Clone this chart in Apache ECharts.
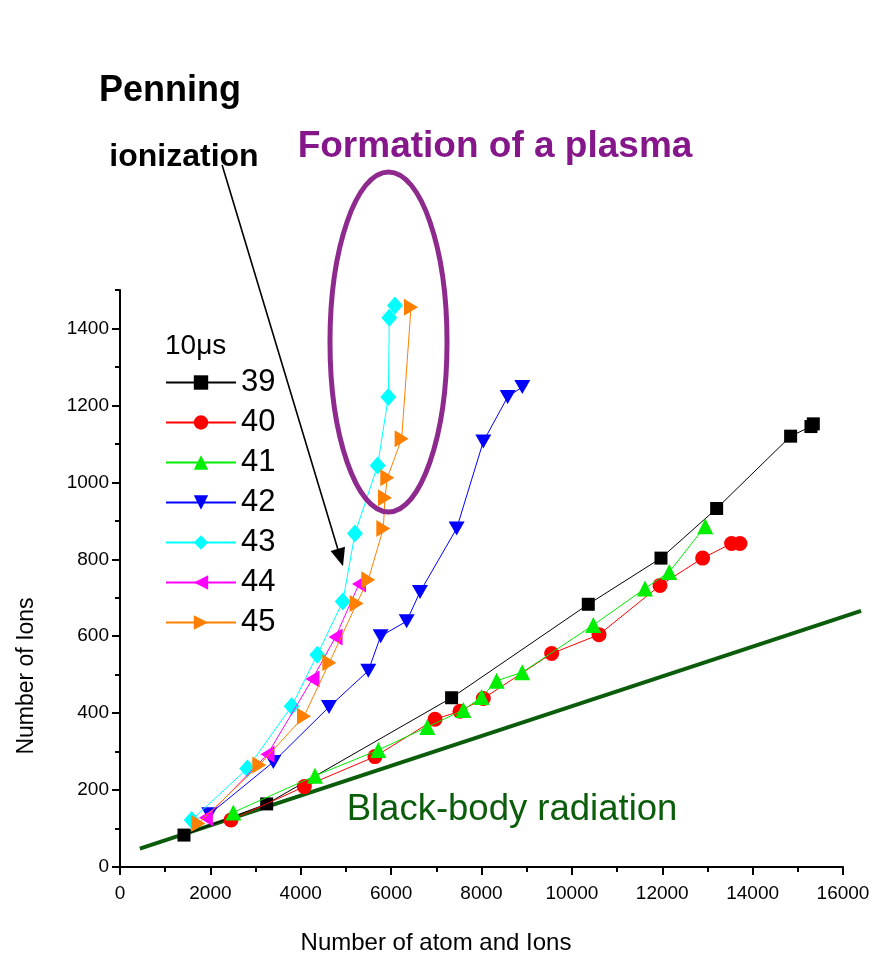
<!DOCTYPE html>
<html>
<head>
<meta charset="utf-8">
<script src="https://cdn.jsdelivr.net/npm/echarts@6/dist/echarts.min.js"></script>
<style>
  html, body { margin: 0; padding: 0; background: #fff; }
  #chart { width: 875px; height: 958px; }
</style>
</head>
<body>
<div id="chart"></div>
<script>
// Ion count vs. total number of atoms and ions, for delays 39..45 (x10 µs)
const seriesNames = ['39', '40', '41', '42', '43', '44', '45'];

const atoms39 = [1416, 3246, 7338, 10363, 11972, 13204, 14841, 15291, 15343];
const ions39  = [83, 164, 440, 683, 803, 932, 1120, 1145, 1152];

const atoms40 = [2456, 4079, 5643, 6971, 7524, 8040, 9553, 10600, 11950, 12894, 13534, 13720];
const ions40  = [122, 209, 287, 384, 405, 438, 555, 604, 732, 803, 841, 841];

const atoms41 = [2508, 4315, 5716, 6801, 7597, 8003, 8335, 8900, 10474, 11618, 12155, 12952];
const ions41  = [142, 237, 304, 364, 408, 442, 484, 506, 629, 724, 767, 886];

const atoms42 = [1976, 3393, 4625, 5495, 5768, 6344, 6639, 7450, 8040, 8579, 8903];
const ions42  = [137, 273, 416, 510, 600, 639, 715, 880, 1106, 1222, 1248];

const atoms43 = [1586, 2818, 3799, 4367, 4930, 5200, 5702, 5938, 5960, 6085];
const ions43  = [122, 256, 418, 552, 690, 867, 1044, 1222, 1428, 1460];

const atoms44 = [1900, 3264, 4260, 4770, 5290];
const ions44  = [128, 293, 489, 598, 736];

const atoms45 = [1733, 3083, 4072, 4632, 5237, 5495, 5827, 5864, 5916, 6233, 6440];
const ions45  = [113, 265, 392, 531, 685, 747, 880, 960, 1012, 1113, 1455];

// Black-body radiation reference line (end points)
const blackBodyAtoms = [440, 16400];
const blackBodyIons  = [48, 666];

// Axis ticks
const xTickLabels = [0, 2000, 4000, 6000, 8000, 10000, 12000, 14000, 16000];
const yTickLabels = [0, 200, 400, 600, 800, 1000, 1200, 1400];
const yMinorTicks = [100, 300, 500, 700, 900, 1100, 1300, 1500];

const X_MAX = 16000;
const Y_MAX = 1500;

const FONT = '"Liberation Sans", Arial, sans-serif';

function pairs(xs, ys) { return xs.map((x, i) => [x, ys[i]]); }

const downTri  = 'path://M0,0 L10,0 L5,9 Z';
const leftTri  = 'path://M9,0 L9,10 L0,5 Z';
const rightTri = 'path://M0,0 L9,5 L0,10 Z';

const styles = [
  { color: '#000000', symbol: 'rect',     size: 13 },
  { color: '#ff0000', symbol: 'circle',   size: 15 },
  { color: '#00ee00', symbol: 'triangle', size: 16 },
  { color: '#0000ff', symbol: downTri,    size: [16, 14] },
  { color: '#00ffff', symbol: 'diamond',  size: [16, 18] },
  { color: '#ff00ff', symbol: leftTri,    size: [14, 17] },
  { color: '#ff8000', symbol: rightTri,   size: [14, 17] }
];

const dataSets = [
  pairs(atoms39, ions39), pairs(atoms40, ions40), pairs(atoms41, ions41),
  pairs(atoms42, ions42), pairs(atoms43, ions43), pairs(atoms44, ions44),
  pairs(atoms45, ions45)
];

// Plot box: the main grid, plus an overlay grid with the same scale that
// reaches a little further right so the radiation line can overrun the axis.
const GRID_LEFT = 120, GRID_RIGHT = 32, GRID_TOP = 290, GRID_BOTTOM = 91;
const CHART_W = 875;
const OVERRUN_RIGHT = 12;
const pxPerUnit = (CHART_W - GRID_LEFT - GRID_RIGHT) / X_MAX;
const overlayMax = (CHART_W - GRID_LEFT - OVERRUN_RIGHT) / pxPerUnit;

const series = seriesNames.map((name, i) => ({
  name: name,
  type: 'line',
  data: dataSets[i],
  symbol: styles[i].symbol,
  symbolSize: styles[i].size,
  showAllSymbol: true,
  lineStyle: { color: styles[i].color, width: 1 },
  itemStyle: { color: styles[i].color },
  emphasis: { disabled: true },
  z: 3 + i
}));

series.unshift({
  name: 'Black-body',
  type: 'line',
  xAxisIndex: 1,
  yAxisIndex: 2,
  data: pairs(blackBodyAtoms, blackBodyIons),
  symbol: 'none',
  clip: false,
  lineStyle: { color: '#0b5c0b', width: 4 },
  emphasis: { disabled: true },
  z: 2
});

const plain = v => String(v);
const hiddenAxis = {
  axisLine: { show: false }, axisTick: { show: false },
  axisLabel: { show: false }, splitLine: { show: false }
};

const chart = echarts.init(document.getElementById('chart'), null, { renderer: 'canvas' });

chart.setOption({
  animation: false,
  backgroundColor: '#ffffff',
  grid: [
    { left: GRID_LEFT, right: GRID_RIGHT, top: GRID_TOP, bottom: GRID_BOTTOM, containLabel: false },
    { left: GRID_LEFT, right: OVERRUN_RIGHT, top: GRID_TOP, bottom: GRID_BOTTOM, containLabel: false }
  ],
  legend: {
    data: seriesNames,
    orient: 'vertical',
    left: 165,
    top: 367,
    padding: 0,
    itemWidth: 70,
    itemHeight: 18,
    itemGap: 9,
    selectedMode: false,
    textStyle: { fontFamily: FONT, fontSize: 31, color: '#000' }
  },
  xAxis: [
    {
      type: 'value',
      gridIndex: 0,
      min: 0,
      max: X_MAX,
      interval: 2000,
      axisLine: { onZero: false, lineStyle: { color: '#000', width: 2 } },
      axisTick: { length: 8, lineStyle: { color: '#000', width: 2 } },
      minorTick: { show: true, splitNumber: 2, length: 5, lineStyle: { color: '#000', width: 2 } },
      splitLine: { show: false },
      minorSplitLine: { show: false },
      axisLabel: {
        customValues: xTickLabels,
        formatter: plain,
        margin: 17,
        fontFamily: FONT, fontSize: 19, color: '#000'
      },
      z: 10
    },
    Object.assign({ type: 'value', gridIndex: 1, min: 0, max: overlayMax }, hiddenAxis)
  ],
  yAxis: [
    {
      type: 'value',
      gridIndex: 0,
      min: 0,
      max: Y_MAX,
      interval: 100,
      position: 'left',
      axisLine: { onZero: false, lineStyle: { color: '#000', width: 2 } },
      axisTick: { customValues: yMinorTicks, length: 5, lineStyle: { color: '#000', width: 2 } },
      splitLine: { show: false },
      axisLabel: {
        customValues: yTickLabels,
        formatter: plain,
        margin: 11,
        fontFamily: FONT, fontSize: 19, color: '#000'
      },
      z: 10
    },
    {
      type: 'value',
      gridIndex: 0,
      min: 0,
      max: Y_MAX,
      interval: 100,
      position: 'left',
      offset: 0,
      axisLine: { show: false },
      axisTick: { show: true, customValues: yTickLabels, length: 8, lineStyle: { color: '#000', width: 2 } },
      splitLine: { show: false },
      axisLabel: { show: false }
    },
    Object.assign({ type: 'value', gridIndex: 1, min: 0, max: Y_MAX }, hiddenAxis)
  ],
  series: series
});

// Annotations anchored in data space
const plasmaCenter = [5942, 1365];
const plasmaRadius = [1295, 442];
const arrowFrom = [2260, 1825];
const arrowTo = [4935, 782];

const toPx = p => chart.convertToPixel({ gridIndex: 0 }, p);
const c = toPx(plasmaCenter);
const edge = toPx([plasmaCenter[0] + plasmaRadius[0], plasmaCenter[1] + plasmaRadius[1]]);
const a0 = toPx(arrowFrom);
const a1 = toPx(arrowTo);

const dx = a1[0] - a0[0], dy = a1[1] - a0[1];
const len = Math.sqrt(dx * dx + dy * dy);
const ux = dx / len, uy = dy / len;
const headLen = 18, headHalf = 7.5;
const bx = a1[0] - ux * headLen, by = a1[1] - uy * headLen;
const head = [
  [a1[0], a1[1]],
  [bx - uy * headHalf, by + ux * headHalf],
  [bx + uy * headHalf, by - ux * headHalf]
];

chart.setOption({
  graphic: [
    {
      type: 'ellipse',
      shape: { cx: c[0], cy: c[1], rx: edge[0] - c[0], ry: c[1] - edge[1] },
      style: { fill: 'none', stroke: '#8e2a8e', lineWidth: 5 },
      z: 20
    },
    {
      type: 'line',
      shape: { x1: a0[0], y1: a0[1], x2: bx, y2: by },
      style: { stroke: '#000', lineWidth: 1.6 },
      z: 20
    },
    {
      type: 'polygon',
      shape: { points: head },
      style: { fill: '#000' },
      z: 20
    },
    {
      type: 'text', x: 170, y: 91,
      style: { text: 'Penning', fill: '#000', font: 'bold 36px ' + FONT, align: 'center', verticalAlign: 'middle' },
      z: 20
    },
    {
      type: 'text', x: 184, y: 157,
      style: { text: 'ionization', fill: '#000', font: 'bold 32px ' + FONT, align: 'center', verticalAlign: 'middle' },
      z: 20
    },
    {
      type: 'text', x: 495, y: 147,
      style: { text: 'Formation of a plasma', fill: '#85178a', font: 'bold 37px ' + FONT, align: 'center', verticalAlign: 'middle' },
      z: 20
    },
    {
      type: 'text', x: 512, y: 810,
      style: { text: 'Black-body radiation', fill: '#0b5c0b', font: '36.5px ' + FONT, align: 'center', verticalAlign: 'middle' },
      z: 20
    },
    {
      type: 'text', x: 165, y: 346,
      style: { text: '10μs', fill: '#000', font: '28px ' + FONT, align: 'left', verticalAlign: 'middle' },
      z: 20
    },
    {
      type: 'text', x: 436, y: 943,
      style: { text: 'Number of atom and Ions', fill: '#000', font: '24px ' + FONT, align: 'center', verticalAlign: 'middle' },
      z: 20
    },
    {
      type: 'text', x: 27, y: 676, rotation: Math.PI / 2,
      style: { text: 'Number of Ions', fill: '#000', font: '23px ' + FONT, align: 'center', verticalAlign: 'middle' },
      z: 20
    }
  ]
});
</script>
</body>
</html>
